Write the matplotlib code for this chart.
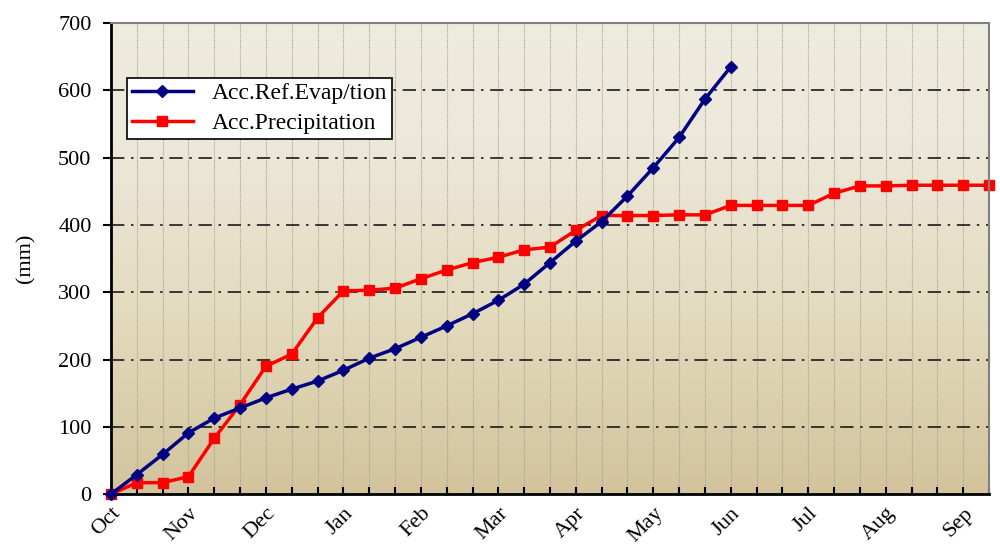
import numpy as np
import matplotlib.pyplot as plt
from matplotlib.colors import LinearSegmentedColormap

plt.rcParams['font.family'] = ['Liberation Serif', 'DejaVu Serif']

months = ['Oct', 'Nov', 'Dec', 'Jan', 'Feb', 'Mar', 'Apr', 'May', 'Jun', 'Jul', 'Aug', 'Sep']
evap = [0, 29, 59, 91, 113, 128, 143, 156, 168, 184, 202, 216, 233, 250, 268,
        288, 312, 344, 376, 405, 443, 485, 530, 587, 635]
precip = [0, 17, 17, 26, 83, 133, 190, 208, 262, 302, 303, 306, 320, 333, 344,
          352, 363, 367, 392, 414, 414, 414, 415, 415, 429, 429, 429, 429, 447,
          458, 458, 459, 459, 459, 459]

fig = plt.figure(figsize=(10, 5.49), dpi=100)
ax = fig.add_axes([0.111, 0.100, 0.878, 0.858])

n = len(precip)
ax.set_xlim(0, n - 1)
ax.set_ylim(0, 700)

# gradient background
cmap = LinearSegmentedColormap.from_list('bg', [(0, '#D2C39C'), (0.4, '#E4DCC0'), (0.75, '#ECE8DA'), (1, '#EEEBDF')])
grad = np.linspace(0, 1, 256).reshape(-1, 1)
ax.imshow(grad, aspect='auto', cmap=cmap, origin='lower',
          extent=[0, n - 1, 0, 700], zorder=0)

for i in range(1, n - 1):
    ax.axvline(i, color='#A8A294', lw=0.8, ls=(0, (1, 1)), zorder=1)
for v in range(100, 700, 100):
    ax.axhline(v, color='#1A1A1A', lw=1.2, ls=(0, (8, 4, 1.5, 4)), zorder=1)

ax.plot(range(len(evap)), evap, color='#000080', lw=2.5, marker='D', ms=6,
        label='Acc.Ref.Evap/tion', zorder=3, clip_on=False)
ax.plot(range(n), precip, color='#FF0000', lw=2.5, marker='s', ms=7,
        label='Acc.Precipitation', zorder=2, clip_on=False)

ax.set_xticks(range(n))
ax.set_xticklabels([months[i // 3] if i % 3 == 0 else '' for i in range(n)],
                   rotation=45, ha='right', rotation_mode='anchor', fontsize=16)
ax.tick_params(axis='x', direction='in', length=5, width=1.5, pad=7)
ax.tick_params(axis='y', direction='out', length=6, width=1.5, labelsize=16, pad=8)
ax.set_yticks(range(0, 701, 100))
ax.set_ylabel('(mm)', fontsize=16, labelpad=16)

ax.spines['left'].set_linewidth(2)
ax.spines['bottom'].set_linewidth(2)
ax.spines['top'].set_color('#808080')
ax.spines['right'].set_color('#808080')
ax.spines['top'].set_linewidth(1.5)
ax.spines['right'].set_linewidth(1.5)

leg = ax.legend(loc='upper left', bbox_to_anchor=(0.018, 0.883), fontsize=17,
                frameon=True, fancybox=False, borderpad=0.2, handlelength=2.6,
                labelspacing=0.35, borderaxespad=0)
leg.get_frame().set_edgecolor('black')
leg.get_frame().set_linewidth(1.2)
leg.get_frame().set_alpha(1)

fig.savefig('out.png', dpi=100)
